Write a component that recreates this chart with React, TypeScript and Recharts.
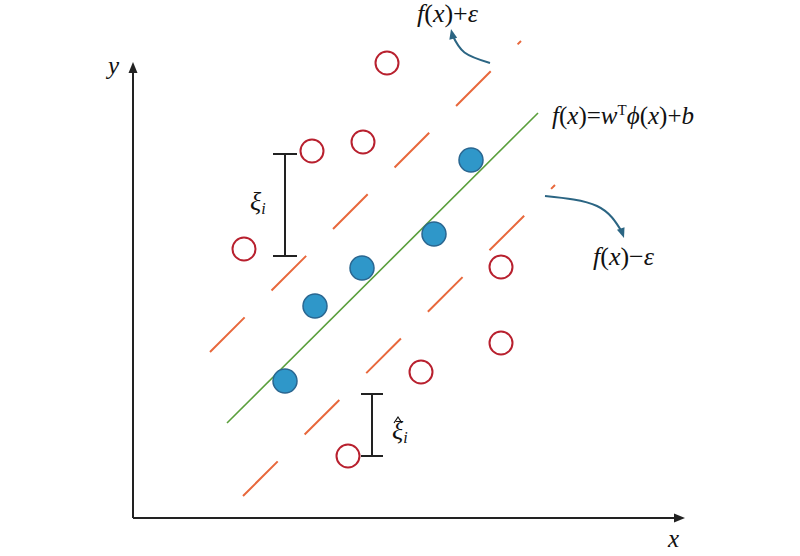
import { ComposedChart, XAxis, YAxis, Scatter, Line, ReferenceLine, ReferenceDot } from 'recharts';

// plot units: 1 unit is about 10px, origin at the corner of the axes
const X_MIN = -13.3;
const X_MAX = 66.7;
const Y_MIN = -3.8;
const Y_MAX = 51.8;
const AXIS_X_END = 55.2;
const AXIS_Y_END = 45.6;

const outsidePoints = [
  { x: 25.4, y: 45.5 },
  { x: 17.9, y: 36.7 },
  { x: 23.0, y: 37.6 },
  { x: 11.1, y: 26.9 },
  { x: 36.8, y: 25.1 },
  { x: 36.8, y: 17.5 },
  { x: 28.8, y: 14.6 },
  { x: 21.5, y: 6.2 },
];

const supportPoints = [
  { x: 33.8, y: 35.8 },
  { x: 30.1, y: 28.4 },
  { x: 22.9, y: 25.0 },
  { x: 18.2, y: 21.2 },
  { x: 15.2, y: 13.7 },
];

const regressionLine = [{ x: 9.4, y: 9.5 }, { x: 40.5, y: 40.5 }];
const upperBound = [{ x: 7.7, y: 16.6 }, { x: 38.8, y: 47.7 }];
const lowerBound = [{ x: 11.0, y: 2.2 }, { x: 42.2, y: 33.3 }];

const upperArrow = [{ x: 35.7, y: 45.5 }, { x: 33.15, y: 46.55 }, { x: 31.9, y: 48.4 }];
const lowerArrow = [{ x: 41.2, y: 32.2 }, { x: 46.4, y: 31.2 }, { x: 48.9, y: 28.6 }];

const slackUpper = { x: 15.2, top: 36.4, bottom: 26.2, half: 1.2 };
const slackLower = { x: 23.9, top: 12.4, bottom: 6.2, half: 1.1 };

const AXIS = '#222';
const RED = '#b8202e';
const BLUE_FILL = '#2f97c9';
const BLUE_EDGE = '#2a6690';
const GREEN = '#5a9f3c';
const ORANGE = '#e8683c';
const ARROW = '#2b6583';
const FONT = '"Liberation Serif", "DejaVu Serif", serif';

const arrowHead = (angle: number, len: number, half: number, color: string) => (p: any) => (
  <polygon
    points={`0,0 ${-len},${-half} ${-len},${half}`}
    transform={`translate(${p.cx},${p.cy}) rotate(${angle})`}
    fill={color}
  />
);

const it = { fontStyle: 'italic' } as const;
const up = { fontStyle: 'normal' } as const;

const label = (content: React.ReactNode, size = 24) => (p: any) => (
  <text x={p.cx} y={p.cy} fontFamily={FONT} fontSize={size} fill="#111">
    {content}
  </text>
);

const fPlus = (
  <>
    <tspan style={it}>f</tspan><tspan style={up}>(</tspan><tspan style={it}>x</tspan>
    <tspan style={up}>)+</tspan><tspan style={it}>ε</tspan>
  </>
);
const fMinus = (
  <>
    <tspan style={it}>f</tspan><tspan style={up}>(</tspan><tspan style={it}>x</tspan>
    <tspan style={up}>)−</tspan><tspan style={it}>ε</tspan>
  </>
);
const fModel = (
  <>
    <tspan style={it}>f</tspan><tspan style={up}>(</tspan><tspan style={it}>x</tspan>
    <tspan style={up}>)=</tspan><tspan style={it}>w</tspan>
    <tspan style={up} fontSize={15} dy={-9}>T</tspan>
    <tspan style={it} dy={9}>ϕ</tspan><tspan style={up}>(</tspan><tspan style={it}>x</tspan>
    <tspan style={up}>)+</tspan><tspan style={it}>b</tspan>
  </>
);
const xi = (
  <>
    <tspan style={it}>ξ</tspan><tspan style={it} fontSize={16} dy={4}>i</tspan>
  </>
);
const xiHat = (p: any) => (
  <g>
    <path
      d={`M${p.cx + 2},${p.cy - 16} L${p.cx + 6},${p.cy - 22} L${p.cx + 10},${p.cy - 16}`}
      fill="none"
      stroke="#111"
      strokeWidth={1.2}
    />
    <text x={p.cx} y={p.cy} fontFamily={FONT} fontSize={26} fill="#111">
      <tspan style={it}>ξ</tspan><tspan style={it} fontSize={16} dy={4}>i</tspan>
    </text>
  </g>
);

const redCircle = (p: any) => <circle cx={p.cx} cy={p.cy} r={11.5} fill="#fff" stroke={RED} strokeWidth={2} />;
const blueCircle = (p: any) => <circle cx={p.cx} cy={p.cy} r={12} fill={BLUE_FILL} stroke={BLUE_EDGE} strokeWidth={1.5} />;

const bar = (b: typeof slackUpper) => [
  <ReferenceLine key="v" segment={[{ x: b.x, y: b.top }, { x: b.x, y: b.bottom }]} stroke={AXIS} strokeWidth={2} />,
  <ReferenceLine key="t" segment={[{ x: b.x - b.half, y: b.top }, { x: b.x + b.half, y: b.top }]} stroke={AXIS} strokeWidth={2} />,
  <ReferenceLine key="b" segment={[{ x: b.x - b.half, y: b.bottom }, { x: b.x + b.half, y: b.bottom }]} stroke={AXIS} strokeWidth={2} />,
];

const lineProps = { dot: false, activeDot: false, isAnimationActive: false } as const;

export default function App() {
  return (
    <div style={{ position: 'absolute', left: 0, top: 0, background: '#fff' }}>
      <ComposedChart width={800} height={556} margin={{ top: 0, right: 0, bottom: 0, left: 0 }}>
        <XAxis type="number" dataKey="x" domain={[X_MIN, X_MAX]} hide allowDataOverflow />
        <YAxis type="number" dataKey="y" domain={[Y_MIN, Y_MAX]} hide allowDataOverflow />

        {/* axes */}
        <ReferenceLine segment={[{ x: 0, y: 0 }, { x: AXIS_X_END - 0.6, y: 0 }]} stroke={AXIS} strokeWidth={2} />
        <ReferenceLine segment={[{ x: 0, y: 0 }, { x: 0, y: AXIS_Y_END - 0.6 }]} stroke={AXIS} strokeWidth={2} />
        <ReferenceDot x={AXIS_X_END} y={0} shape={arrowHead(0, 11, 4.5, AXIS)} />
        <ReferenceDot x={0} y={AXIS_Y_END} shape={arrowHead(-90, 11, 4.5, AXIS)} />

        <Line data={upperBound} dataKey="y" stroke={ORANGE} strokeWidth={2} strokeDasharray="49 38" {...lineProps} />
        <Line data={lowerBound} dataKey="y" stroke={ORANGE} strokeWidth={2} strokeDasharray="49 38" {...lineProps} />
        <Line data={regressionLine} dataKey="y" stroke={GREEN} strokeWidth={1.6} {...lineProps} />

        <Line data={upperArrow} dataKey="y" type="natural" stroke={ARROW} strokeWidth={2} {...lineProps} />
        <Line data={lowerArrow} dataKey="y" type="natural" stroke={ARROW} strokeWidth={2} {...lineProps} />
        <ReferenceDot x={31.8} y={48.9} shape={arrowHead(-103, 10, 4, ARROW)} />
        <ReferenceDot x={49.1} y={28.0} shape={arrowHead(71, 10, 4, ARROW)} />

        {bar(slackUpper)}
        {bar(slackLower)}

        <Scatter data={outsidePoints} shape={redCircle} isAnimationActive={false} />
        <Scatter data={supportPoints} shape={blueCircle} isAnimationActive={false} />

        <ReferenceDot x={28.4} y={49.6} shape={label(fPlus, 26)} />
        <ReferenceDot x={41.9} y={39.4} shape={label(fModel, 25)} />
        <ReferenceDot x={46.0} y={25.3} shape={label(fMinus, 26)} />
        <ReferenceDot x={11.7} y={30.8} shape={label(xi, 26)} />
        <ReferenceDot x={25.9} y={7.9} shape={xiHat} />
        <ReferenceDot x={-2.5} y={44.4} shape={label(<tspan style={it}>y</tspan>, 25)} />
        <ReferenceDot x={53.5} y={-2.9} shape={label(<tspan style={it}>x</tspan>, 25)} />
      </ComposedChart>
    </div>
  );
}
